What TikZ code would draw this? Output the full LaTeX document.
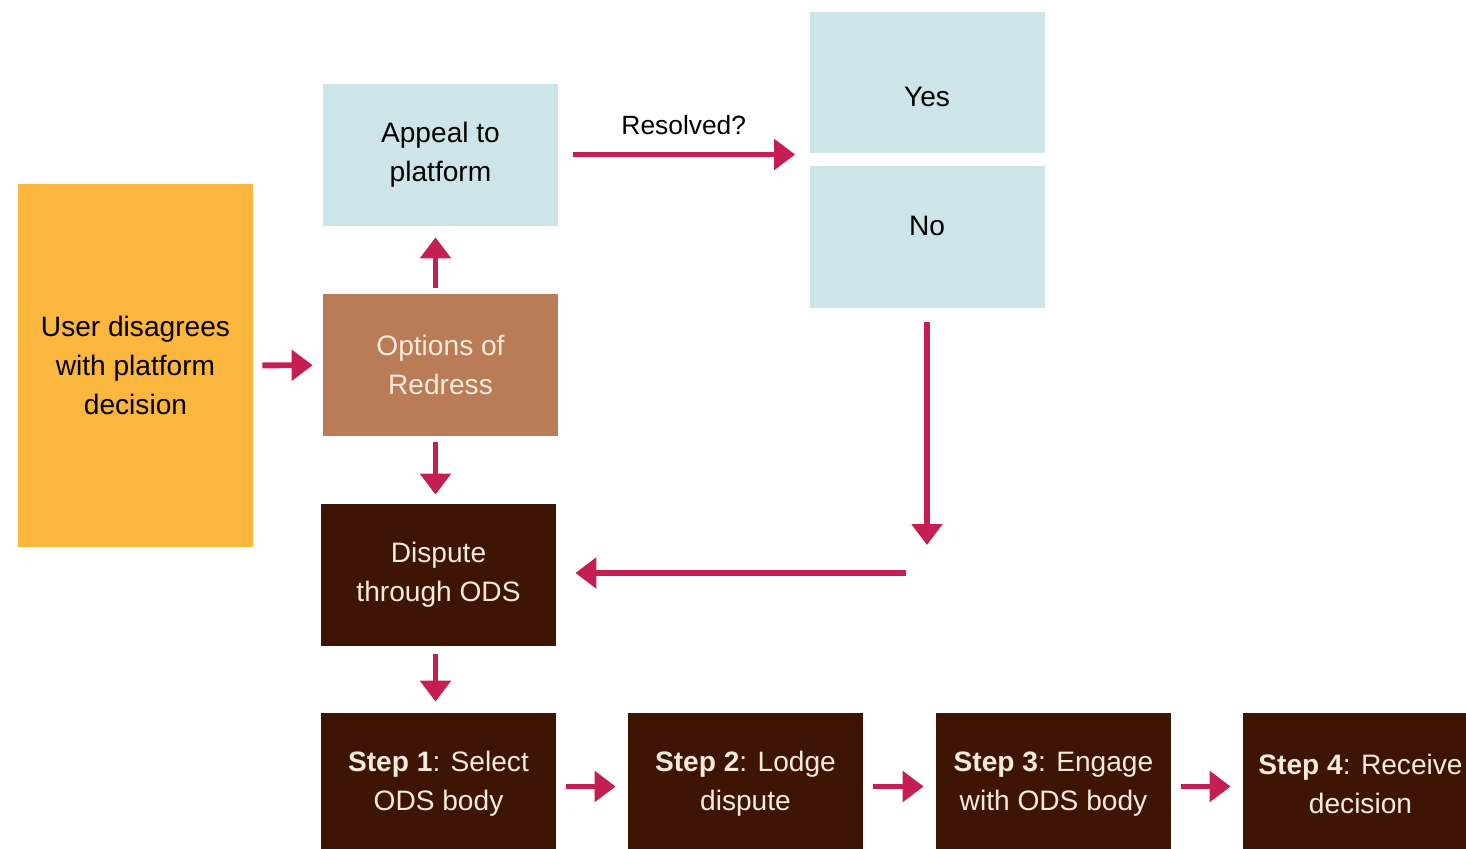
\documentclass[tikz,border=0pt]{standalone}
\usepackage{fontspec}
\setmainfont{Liberation Sans}
\usepackage{tikz}
\usetikzlibrary{calc,arrows.meta}
\definecolor{userorange}{HTML}{FBB63D}
\definecolor{paleblue}{HTML}{CDE4E9}
\definecolor{redressbrown}{HTML}{BA7B57}
\definecolor{odsbrown}{HTML}{3E1505}
\definecolor{arrowred}{HTML}{C41E52}
\definecolor{cream}{HTML}{F5EADC}
\newcommand{\stp}[1]{\textbf{Step #1}}

\begin{document}
\begin{tikzpicture}[
    box/.style={minimum width=4.7cm, minimum height=2.84cm, align=center,
        inner sep=0pt, font=\fontsize{16}{22}\selectfont},
    pale/.style={box, fill=paleblue, text=black},
    darkbox/.style={box, fill=odsbrown, text=cream},
    flow/.style={draw=arrowred, line width=3.4pt,
        -{Triangle[length=0.42cm, width=0.6cm]}}
]
    \clip (0,0) rectangle (29.32,-16.98);
    \node[box, fill=userorange, minimum height=7.26cm] (user) at (2.71,-7.31)
        {User disagrees\\with platform\\decision};
    \node[pale] (appeal) at (8.81,-3.10) {Appeal to\\platform};
    \node[box, fill=redressbrown, text=cream] (options) at (8.81,-7.30)
        {Options of\\Redress};
    \node[darkbox] (dispute) at (8.77,-11.5) {Dispute\\through ODS};
    \node[pale, minimum height=2.82cm, text height=1.08cm, text depth=0.1cm]
        (yes) at (18.54,-1.65) {Yes};
    \node[pale, minimum height=2.84cm, text height=0cm, text depth=0.04cm]
        (no) at (18.54,-4.74) {No};
    \coordinate (yesno) at ($(yes.south west)!0.5!(no.north west)$);
    \coordinate (turn) at (18.54,-11.46);

    \node[darkbox] (step1) at (8.77,-15.68) {\stp{1}: Select\\ODS body};
    \node[darkbox] (step2) at (14.91,-15.68) {\stp{2}: Lodge\\dispute};
    \node[darkbox] (step3) at (21.07,-15.68) {\stp{3}: Engage\\with ODS body};
    \node[darkbox] (step4) at (27.21,-15.68) {\stp{4}: Receive\\decision};

    \draw[flow, shorten <=0.18cm, shorten >=0.2cm] (user) -- (options);
    \draw[flow, shorten <=0.12cm, shorten >=0.22cm]
        ([xshift=-0.1cm]options.north) -- ([xshift=-0.1cm]appeal.south);
    \draw[flow, shorten <=0.12cm, shorten >=0.18cm]
        ([xshift=-0.1cm]options.south) -- ([xshift=-0.1cm]dispute.north -| options.south);
    \draw[flow, shorten <=0.3cm, shorten >=0.28cm] ([yshift=0.1cm]yesno -| appeal.east)
        -- node[above=0.22cm, font=\fontsize{15}{18}\selectfont] {Resolved?} ([yshift=0.1cm]yesno);
    \draw[flow, shorten <=0.28cm, shorten >=0.56cm] (no.south) -- (turn);
    \draw[flow, shorten <=0.42cm, shorten >=0.38cm] (turn) -- (turn -| dispute.east);
    \draw[flow, shorten <=0.16cm, shorten >=0.22cm]
        ([xshift=-0.1cm]dispute.south -| options.south) -- ([xshift=-0.1cm]step1.north -| options.south);
    \foreach \a/\b in {step1/step2, step2/step3, step3/step4}
        \draw[flow, shorten <=0.2cm, shorten >=0.24cm]
            ([yshift=-0.05cm]\a.east) -- ([yshift=-0.05cm]\b.west);
\end{tikzpicture}
\end{document}
